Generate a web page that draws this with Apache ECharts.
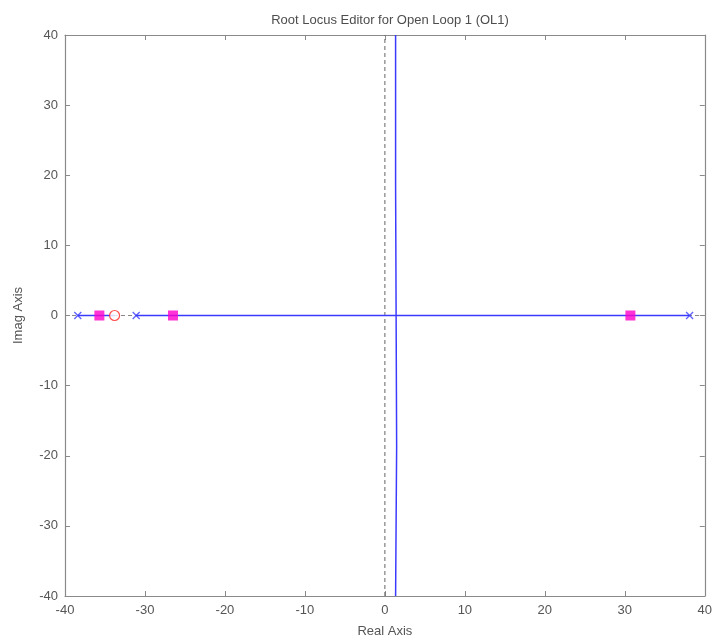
<!DOCTYPE html>
<html>
<head>
<meta charset="utf-8">
<script src="https://cdn.jsdelivr.net/npm/echarts@6/dist/echarts.min.js"></script>
<style>
html,body{margin:0;padding:0;background:#fff;}
#chart{width:715px;height:643px;}
</style>
</head>
<body>
<div id="chart"></div>
<script>
// Open-loop poles and zeros (real parts, all on the real axis)
const openLoopPoles = [-38.4, -31.1, 38.1];
const openLoopZeros = [-33.8];
// Closed-loop poles at the current gain
const closedLoopPoles = [-35.7, -26.5, 30.7];
// Locus branches
const branchLeft = [[-38.4, 0], [-33.8, 0]];
const branchReal = [[-31.1, 0], [38.1, 0]];
const branchVertical = [[1.34, 40], [1.34, 18.5], [1.47, 18.5], [1.47, -18.5], [1.34, -18.5], [1.34, -40]];
// Axis limits
const axisMin = -40, axisMax = 40, axisStep = 10;

const font = 'Liberation Sans';
const gray = '#8a8a8a';
const labelColor = '#555';
const locusBlue = '#3b3bff';

function boxAxis(pos, isX, showLabel, name) {
  return {
    type: 'value',
    position: pos,
    min: axisMin, max: axisMax, interval: axisStep,
    name: name || '',
    nameLocation: 'middle',
    nameGap: isX ? 29 : 40,
    nameTextStyle: {color: labelColor, fontFamily: font, fontSize: 13},
    axisLine: {show: true, onZero: false, lineStyle: {color: gray, width: 1.2}},
    axisTick: {show: true, inside: true, length: 5, lineStyle: {color: gray}},
    axisLabel: {show: showLabel, color: labelColor, fontFamily: font, fontSize: 13, margin: isX ? 8 : 7},
    splitLine: {show: false}
  };
}

const chart = echarts.init(document.getElementById('chart'), null, {renderer: 'canvas'});
chart.setOption({
  animation: false,
  backgroundColor: '#fff',
  title: {
    text: 'Root Locus Editor for Open Loop 1 (OL1)',
    left: 385, top: 9, textAlign: 'center',
    textStyle: {color: '#4d4d4d', fontFamily: font, fontSize: 13, fontWeight: 'normal'}
  },
  grid: {left: 65, right: 10, top: 35, bottom: 47},
  xAxis: [boxAxis('bottom', true, true, 'Real Axis'), boxAxis('top', true, false)],
  yAxis: [boxAxis('left', false, true, 'Imag Axis'), boxAxis('right', false, false)],
  series: [
    {type: 'line', data: [[axisMin, 0], [axisMax, 0]], symbol: 'none', silent: true,
     lineStyle: {color: '#888', width: 1, type: [4, 3]}, z: 1},
    {type: 'line', data: [[0, axisMin], [0, axisMax]], symbol: 'none', silent: true,
     lineStyle: {color: '#666', width: 1, type: [4, 3]}, z: 1},
    {type: 'line', data: branchLeft, symbol: 'none', lineStyle: {color: locusBlue, width: 1.5}, z: 2},
    {type: 'line', data: branchReal, symbol: 'none', lineStyle: {color: locusBlue, width: 1.5}, z: 2},
    {type: 'line', data: branchVertical, symbol: 'none', lineStyle: {color: locusBlue, width: 1.5}, z: 2},
    {type: 'scatter', data: openLoopPoles.map(v => [v, 0]),
     symbol: 'path://M0,0L10,10M10,0L0,10', symbolSize: 7,
     itemStyle: {color: 'none', borderColor: locusBlue, borderWidth: 1.3}, z: 4},
    {type: 'scatter', data: openLoopZeros.map(v => [v, 0]),
     symbol: 'circle', symbolSize: 10,
     itemStyle: {color: '#fff', borderColor: '#ff2020', borderWidth: 1.2}, z: 4},
    {type: 'scatter', data: closedLoopPoles.map(v => [v, 0]),
     symbol: 'rect', symbolSize: 10,
     itemStyle: {color: '#ff00cc'}, z: 5}
  ]
});
</script>
</body>
</html>
